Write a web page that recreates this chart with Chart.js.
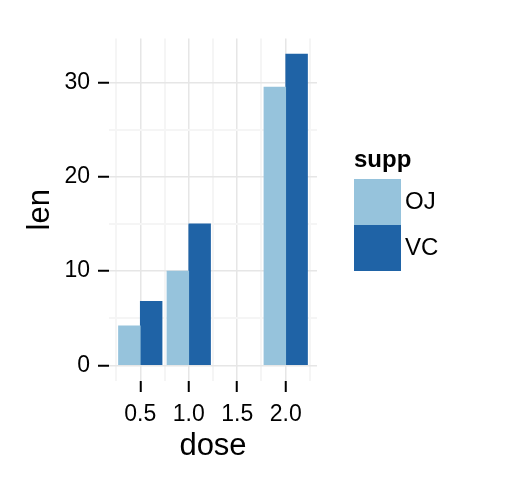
<!DOCTYPE html>
<html><head><meta charset="utf-8">
<script src="https://cdn.jsdelivr.net/npm/chart.js@4/dist/chart.umd.min.js"></script>
<style>html,body{margin:0;padding:0;background:#fff}canvas{display:block}</style>
</head><body>
<canvas id="c" width="518" height="480"></canvas>
<script>
const doses = [0.5, 1.0, 2.0];
const ojLen = [4.2, 10, 29.5];
const vcLen = [6.8, 15, 33];
const seriesNames = ['OJ', 'VC'];
const seriesColors = ['#96C3DC', '#1F63A6'];
const xTickValues = [0.5, 1.0, 1.5, 2.0];
const xTickLabels = ['0.5', '1.0', '1.5', '2.0'];
const xMinorValues = [0.25, 0.75, 1.25, 1.75, 2.25];
const yTickValues = [0, 10, 20, 30];
const yTickLabels = ['0', '10', '20', '30'];
const yMinorValues = [5, 15, 25];
const xTitle = 'dose';
const yTitle = 'len';
const legendTitle = 'supp';
const xRange = [0.1775, 2.3225];
const yRange = [-1.65, 34.65];

const FAMILY = '"Liberation Sans", Arial, Helvetica, sans-serif';
const near = (list, v) => list.findIndex(t => Math.abs(t - v) < 1e-9);
const MAJOR_GRID = '#e6e6e6', MINOR_GRID = '#f5f5f5';

function gridOpts(majors) {
  return {
    offset: false,
    drawTicks: true,
    tickLength: 11,
    tickWidth: 2,
    tickColor: c => near(majors, c.tick.value) >= 0 ? '#000' : 'rgba(0,0,0,0)',
    color: c => near(majors, c.tick.value) >= 0 ? MAJOR_GRID : MINOR_GRID,
    lineWidth: c => near(majors, c.tick.value) >= 0 ? 1.5 : 2
  };
}

const legendPlugin = {
  id: 'suppLegend',
  afterDraw(chart) {
    const ctx = chart.ctx;
    const x0 = 354, titleBase = 167, keyTop = 179, keyW = 47, keyH = 46, gap = 4;
    ctx.save();
    ctx.textAlign = 'left';
    ctx.fillStyle = '#000';
    ctx.font = 'bold 24px ' + FAMILY;
    ctx.textBaseline = 'alphabetic';
    ctx.fillText(legendTitle, x0, titleBase);
    chart.data.datasets.forEach((ds, i) => {
      const y = keyTop + i * keyH;
      ctx.fillStyle = ds.backgroundColor;
      ctx.fillRect(x0, y, keyW, keyH);
      ctx.fillStyle = '#000';
      ctx.font = '24px ' + FAMILY;
      ctx.textBaseline = 'middle';
      ctx.fillText(ds.label, x0 + keyW + gap, y + keyH / 2);
    });
    ctx.restore();
  }
};

new Chart(document.getElementById('c'), {
  type: 'bar',
  data: {
    datasets: [
      { label: seriesNames[0], data: doses.map((d, i) => ({ x: d, y: ojLen[i] })), backgroundColor: seriesColors[0] },
      { label: seriesNames[1], data: doses.map((d, i) => ({ x: d, y: vcLen[i] })), backgroundColor: seriesColors[1] }
    ]
  },
  options: {
    responsive: false,
    animation: false,
    devicePixelRatio: 1,
    barThickness: 21.8,
    layout: { padding: { left: 0, right: 201, top: 38.5, bottom: 0 } },
    plugins: { legend: { display: false }, tooltip: { enabled: false } },
    scales: {
      x: {
        type: 'linear', min: xRange[0], max: xRange[1], bounds: 'data', offset: false,
        afterBuildTicks: s => { s.ticks = xMinorValues.concat(xTickValues).sort((a, b) => a - b).map(v => ({ value: v })); },
        afterFit: s => { s.height = 99; },
        ticks: {
          autoSkip: false, maxRotation: 0, minRotation: 0, padding: 9, color: '#000',
          font: { family: FAMILY, size: 23 },
          callback: v => { const i = near(xTickValues, v); return i < 0 ? '' : xTickLabels[i]; }
        },
        grid: gridOpts(xTickValues),
        border: { display: false },
        title: { display: true, text: xTitle, color: '#000', font: { family: FAMILY, size: 31 }, padding: { top: 0, bottom: 15 } }
      },
      y: {
        type: 'linear', min: yRange[0], max: yRange[1], bounds: 'data',
        afterBuildTicks: s => { s.ticks = yMinorValues.concat(yTickValues).sort((a, b) => a - b).map(v => ({ value: v })); },
        afterFit: s => { s.width = 109; },
        ticks: {
          autoSkip: false, padding: 8, color: '#000',
          font: { family: FAMILY, size: 23 },
          callback: v => { const i = near(yTickValues, v); return i < 0 ? '' : yTickLabels[i]; }
        },
        grid: gridOpts(yTickValues),
        border: { display: false },
        title: { display: true, text: yTitle, color: '#000', font: { family: FAMILY, size: 31 }, padding: { top: 22, bottom: 0 } }
      }
    }
  },
  plugins: [legendPlugin]
});
</script>
</body></html>
